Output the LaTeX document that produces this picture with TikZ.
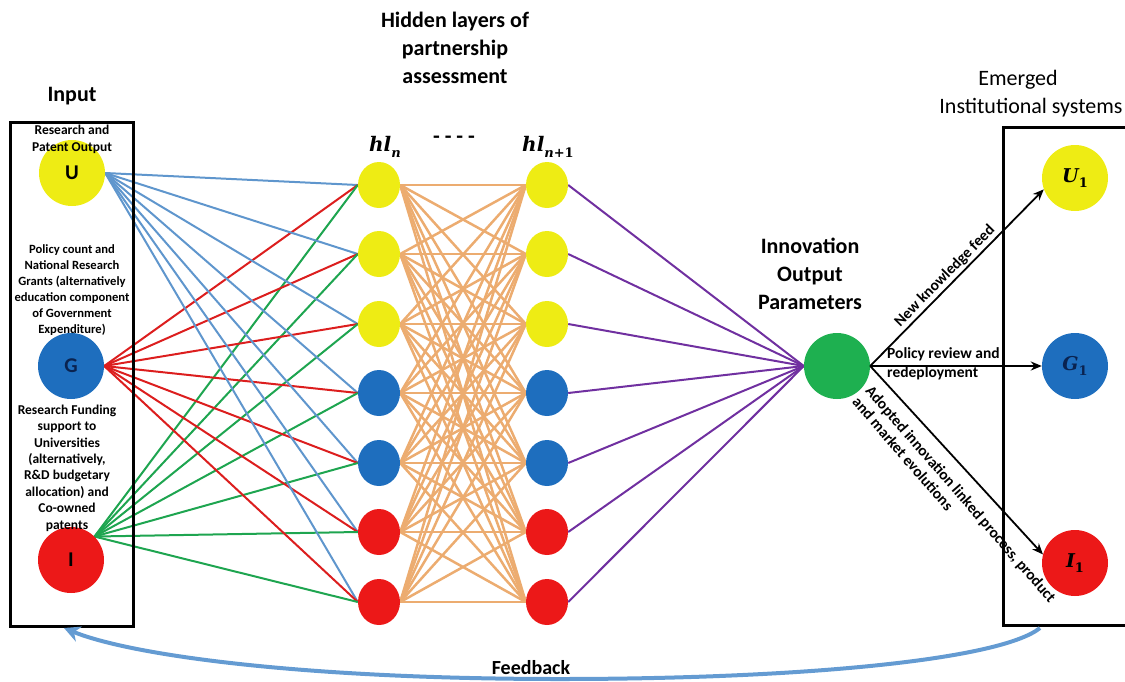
\documentclass[tikz,border=0pt]{standalone}
\usepackage[no-math]{fontspec}
\setmainfont{Carlito}
\newfontfamily\dvs{DejaVu Serif}
\usetikzlibrary{arrows.meta,shapes.geometric,calc}
\pgfdeclarelayer{bg}
\pgfsetlayers{bg,main}
\definecolor{cyel}{RGB}{238,236,20}
\definecolor{cblu}{RGB}{30,110,190}
\definecolor{cred}{RGB}{236,24,24}
\definecolor{cgrn}{RGB}{30,176,80}
\definecolor{lblu}{RGB}{95,150,205}
\definecolor{lred}{RGB}{220,30,30}
\definecolor{lgrn}{RGB}{30,165,80}
\definecolor{lpur}{RGB}{112,48,160}
\definecolor{lora}{RGB}{236,172,112}
\definecolor{fbblu}{RGB}{100,155,210}
\definecolor{gnavy}{RGB}{10,35,80}
\newcommand{\mbi}[2]{{\dvs\bfseries\itshape #1}\raisebox{-0.28em}{\dvs\bfseries\fontsize{13}{13}\selectfont #2}}
\tikzset{
  ball/.style={circle, minimum size=66, inner sep=0, font=\fontsize{21}{21}\selectfont\bfseries},
  hid/.style={ellipse, minimum width=42, minimum height=46, inner sep=0},
  small/.style={font=\fontsize{13.5}{17}\selectfont\bfseries, align=center, inner sep=0},
  big/.style={font=\fontsize{22}{28}\selectfont\bfseries, align=center, inner sep=0},
  alab/.style={font=\fontsize{15.5}{17.5}\selectfont\bfseries, inner sep=2},
  serl/.style={font=\fontsize{20}{20}\selectfont, inner sep=0},
  arr/.style={line width=1.8, -{Stealth[length=11,width=9]}},
  inl/.style={line width=2},
}
\begin{document}
\begin{tikzpicture}[x=1pt,y=-1pt]
\useasboundingbox (0,0) rectangle (1125,681);
% boxes
\draw[line width=3] (10,122) rectangle (133,626);
\draw[line width=3] (1130,127) -- (1003,127) -- (1003,625) -- (1130,625);
% input balls
\node[ball, fill=cyel] (U) at (72,173) {U};
\node[ball, fill=cblu, text=gnavy] (G) at (71,366) {G};
\node[ball, fill=cred] (I) at (71,560) {I};
% hidden layers
\foreach \i/\y/\c in {1/185/cyel,2/254/cyel,3/324/cyel,4/393/cblu,5/463/cblu,6/532/cred,7/602/cred} {
  \node[hid, fill=\c] (a\i) at (379,\y) {};
  \node[hid, fill=\c] (b\i) at (547,\y) {};
}
% output
\node[ball, fill=cgrn] (O) at (837,366) {};
\node[ball, fill=cyel, font=\fontsize{19}{19}\selectfont] (U1) at (1075,178) {\mbi{U}{1}};
\node[ball, fill=cblu, text=gnavy, font=\fontsize{19}{19}\selectfont] (G1) at (1075,366) {\mbi{G}{1}};
\node[ball, fill=cred, font=\fontsize{19}{19}\selectfont] (I1) at (1075,563) {\mbi{I}{1}};
% connections
\begin{pgfonlayer}{bg}
\foreach \i in {1,...,7} {
  \foreach \j in {1,...,7} \draw[lora, line width=2.5] (a\i.east) -- (b\j.west);
  \draw[lblu, inl] (U.east) -- (a\i.west);
  \draw[lred, inl] (G.east) -- (a\i.west);
  \draw[lgrn, inl] (I.45) -- (a\i.west);
  \draw[lpur, inl] (b\i.east) -- (O.west);
}
\end{pgfonlayer}
% output arrows
\draw[arr] (O.east) -- node[alab, sloped, above, pos=0.47] {New knowledge feed} (U1.200);
\draw[arr] (O.east) -- (G1.west);
\draw[arr] (O.east) -- (I1.165);
\node[alab, anchor=north west, align=left, inner sep=0, rotate=-49] (adl) at (873,384) {Adopted innovation linked process, product\\and market evolutions};
\node[alab, anchor=west, align=left, inner sep=0, font=\fontsize{15.5}{19}\selectfont\bfseries] (pol) at (887,364) {Policy review and\\redeployment};
% labels
\node[big] (tin) at (72,96) {Input};
\node[small] (tu) at (72,139) {Research and\\Patent Output};
\node[small, font=\fontsize{12.6}{16}\selectfont\bfseries] (tg) at (72,290) {Policy count and\\National Research\\Grants (alternatively\\education component\\of Government\\Expenditure)};
\node[small, font=\fontsize{13.5}{16.4}\selectfont\bfseries] (ti) at (67,468) {Research Funding\\support to\\Universities\\(alternatively,\\R\&D budgetary\\allocation) and\\Co-owned\\patents};
\node[big] (title) at (455,48) {Hidden layers of\\partnership\\assessment};
\node[serl] (hn) at (385,147) {\mbi{hl}{\itshape n}};
\node[font=\fontsize{22}{22}\selectfont\bfseries] (dots) at (454,140) {- - - -};
\node[serl] (hn1) at (548,147) {\mbi{hl}{{\itshape n}+1}};
\node[big] (iop) at (810,274) {Innovation\\Output\\Parameters};
\node[font=\fontsize{22}{28}\selectfont, align=center, inner sep=0] (em) at (1031,94) {Emerged\hspace*{26pt}\\Institutional systems};
% feedback
\draw[fbblu, line width=4, -{Stealth[length=16,width=16]}] (1040,628) .. controls (1000,660) and (800,679) .. (560,679) .. controls (300,679) and (130,655) .. (64,628);
\node[font=\fontsize{20}{20}\selectfont\bfseries] (fb) at (531,668) {Feedback};
\end{tikzpicture}
\end{document}
